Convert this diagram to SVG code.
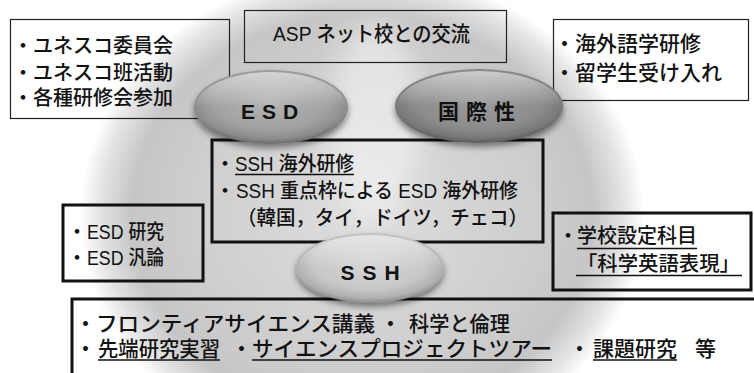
<svg xmlns="http://www.w3.org/2000/svg" width="754" height="373" viewBox="0 0 754 373">
<defs>
<radialGradient id="bg" cx="0.5" cy="0.5" r="0.5">
<stop offset="0" stop-color="#dedede"/>
<stop offset="0.6" stop-color="#cecece"/>
<stop offset="0.82" stop-color="#c6c6c6"/>
<stop offset="0.93" stop-color="#e4e4e4"/>
<stop offset="1" stop-color="#ffffff"/>
</radialGradient>
<radialGradient id="gEsd" cx="0.5" cy="0.42" r="0.58">
<stop offset="0" stop-color="#b4b4b4"/>
<stop offset="0.65" stop-color="#a2a2a2"/>
<stop offset="0.88" stop-color="#8c8c8c"/>
<stop offset="1" stop-color="#6a6a6a"/>
</radialGradient>
<radialGradient id="gKok" cx="0.5" cy="0.42" r="0.58">
<stop offset="0" stop-color="#9c9c9c"/>
<stop offset="0.65" stop-color="#8d8d8d"/>
<stop offset="0.88" stop-color="#787878"/>
<stop offset="1" stop-color="#5c5c5c"/>
</radialGradient>
<radialGradient id="gSsh" cx="0.5" cy="0.42" r="0.58">
<stop offset="0" stop-color="#d6d6d6"/>
<stop offset="0.65" stop-color="#c8c8c8"/>
<stop offset="0.88" stop-color="#b0b0b0"/>
<stop offset="1" stop-color="#8a8a8a"/>
</radialGradient>
<linearGradient id="hl" x1="0" y1="0" x2="0" y2="1">
<stop offset="0" stop-color="#ffffff" stop-opacity="0.55"/>
<stop offset="0.5" stop-color="#ffffff" stop-opacity="0"/>
</linearGradient>
<filter id="sh" x="-20%" y="-20%" width="140%" height="160%">
<feDropShadow dx="0" dy="4" stdDeviation="3" flood-color="#000" flood-opacity="0.45"/>
</filter>
<filter id="blur" x="-50%" y="-50%" width="200%" height="200%">
<feGaussianBlur stdDeviation="14"/>
</filter>
</defs>
<style>
.t{font-family:"Liberation Sans","Noto Sans CJK JP","Noto Sans CJK SC",sans-serif;font-weight:500;font-size:20px;fill:#111;}
.b{font-family:"Liberation Sans","Noto Sans CJK JP","Noto Sans CJK SC",sans-serif;font-weight:500;font-size:21px;fill:#111;}
.thin{fill:none;stroke:#222;stroke-width:1.2;}
.thick{fill:none;stroke:#111;stroke-width:3;}
.ul{stroke:#111;stroke-width:1.4;}
.el{font-family:"Liberation Sans","Noto Sans CJK JP",sans-serif;font-weight:bold;font-size:21px;fill:#111;text-anchor:middle;}
</style>
<rect width="754" height="373" fill="#ffffff"/>
<ellipse cx="362" cy="215" rx="282" ry="245" fill="url(#bg)"/>
<ellipse cx="375" cy="120" rx="45" ry="100" fill="#ffffff" opacity="0.45" filter="url(#blur)"/>

<g id="box-unesco">
<rect class="thin" x="10.5" y="19.5" width="219" height="99"/>
<text class="t" x="13" y="53">・ユネスコ委員会</text>
<text class="t" x="13" y="80">・ユネスコ班活動</text>
<text class="t" x="13" y="105">・各種研修会参加</text>
</g>

<g id="box-asp">
<rect class="thin" x="244.5" y="10.5" width="262" height="52"/>
<text class="b" x="273" y="41" textLength="197" lengthAdjust="spacingAndGlyphs">ASP ネット校との交流</text>
</g>

<g id="box-kaigai">
<rect class="thin" x="553.5" y="19.5" width="195" height="81"/>
<text class="b" x="554" y="51">・海外語学研修</text>
<text class="b" x="554" y="80">・留学生受け入れ</text>
</g>

<g id="box-center">
<rect class="thick" x="212" y="140" width="331" height="102"/>
<text class="t" x="215" y="171">・</text>
<text class="t" x="235" y="171" textLength="119" lengthAdjust="spacingAndGlyphs">SSH 海外研修</text>
<line class="ul" x1="235" y1="174.5" x2="354" y2="174.5"/>
<text class="t" x="215" y="198">・</text>
<text class="t" x="236" y="198" textLength="282" lengthAdjust="spacingAndGlyphs">SSH 重点枠による ESD 海外研修</text>
<text class="t" x="237" y="225" textLength="291" lengthAdjust="spacingAndGlyphs">（韓国，タイ，ドイツ，チェコ）</text>
</g>

<g id="box-esd-research">
<rect class="thick" x="63" y="205" width="140" height="76"/>
<text class="t" x="67" y="239">・</text>
<text class="t" x="87" y="239" textLength="77" lengthAdjust="spacingAndGlyphs">ESD 研究</text>
<text class="t" x="67" y="265">・</text>
<text class="t" x="87" y="265" textLength="77" lengthAdjust="spacingAndGlyphs">ESD 汎論</text>
</g>

<g id="box-subject">
<rect class="thick" x="553" y="213" width="198" height="77"/>
<text class="t" x="558" y="243">・</text>
<text class="t" x="577" y="243" textLength="120" lengthAdjust="spacingAndGlyphs">学校設定科目</text>
<line class="ul" x1="577" y1="248.5" x2="697" y2="248.5"/>
<text class="t" x="577" y="271" textLength="163" lengthAdjust="spacingAndGlyphs">「科学英語表現」</text>
<line class="ul" x1="576" y1="275.5" x2="742" y2="275.5"/>
</g>

<g id="box-bottom">
<rect class="thick" x="72" y="299" width="700" height="100"/>
<text class="b" x="75" y="331">・</text>
<text class="b" x="96" y="331" textLength="279" lengthAdjust="spacingAndGlyphs">フロンティアサイエンス講義</text>
<text class="b" x="380" y="331">・</text>
<text class="b" x="409" y="331" textLength="101" lengthAdjust="spacingAndGlyphs">科学と倫理</text>
<text class="b" x="75" y="356">・</text>
<text class="b" x="98" y="356" textLength="122" lengthAdjust="spacingAndGlyphs">先端研究実習</text>
<line class="ul" x1="98" y1="360" x2="220" y2="360"/>
<text class="b" x="231" y="356">・</text>
<text class="b" x="252" y="356" textLength="300" lengthAdjust="spacingAndGlyphs">サイエンスプロジェクトツアー</text>
<line class="ul" x1="252" y1="360" x2="552" y2="360"/>
<text class="b" x="569" y="356">・</text>
<text class="b" x="593" y="356" textLength="84" lengthAdjust="spacingAndGlyphs">課題研究</text>
<line class="ul" x1="593" y1="360" x2="677" y2="360"/>
<text class="b" x="695" y="356">等</text>
</g>

<g id="node-esd">
<ellipse cx="271" cy="107" rx="77" ry="37" fill="url(#gEsd)" filter="url(#sh)"/>
<ellipse cx="271" cy="107" rx="75" ry="35" fill="url(#hl)"/>
<text class="el" x="273" y="119" letter-spacing="7">ESD</text>
</g>

<g id="node-kokusai">
<ellipse cx="479" cy="106" rx="84" ry="37" fill="url(#gKok)" filter="url(#sh)"/>
<ellipse cx="479" cy="106" rx="82" ry="35" fill="url(#hl)"/>
<text class="el" x="480" y="119" font-family="Noto Sans CJK JP, sans-serif" font-size="20" letter-spacing="7">国際性</text>
</g>

<g id="node-ssh">
<ellipse cx="370" cy="268" rx="74" ry="35" fill="url(#gSsh)" filter="url(#sh)"/>
<ellipse cx="370" cy="268" rx="72" ry="33" fill="url(#hl)"/>
<text class="el" x="374" y="280" letter-spacing="8">SSH</text>
</g>
</svg>
